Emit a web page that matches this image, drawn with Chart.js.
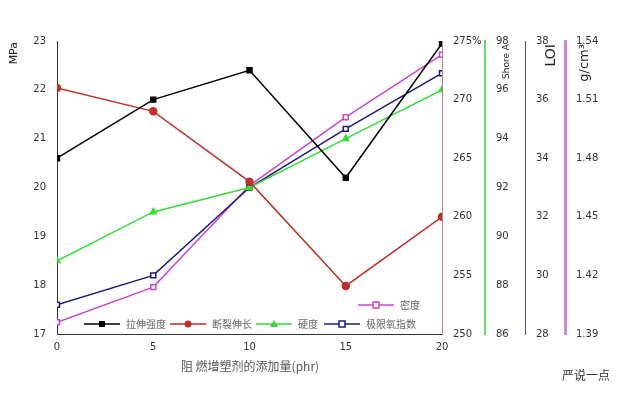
<!DOCTYPE html>
<html lang="zh">
<head>
<meta charset="UTF-8">
<title>阻燃增塑剂</title>
<script src="https://cdn.jsdelivr.net/npm/chart.js"></script>
<style>
    body { margin: 0; background: #fff; }
    #wrap { width: 640px; height: 400px; }
</style>
</head>
<body>
<div id="wrap"><canvas id="mychart" width="640" height="400"></canvas></div>
<script>
    // data
    const phr = [0, 5, 10, 15, 20];
    const strength = [20.6, 21.8, 22.4, 20.2, 22.95];   // MPa
    const elongation = [271, 269, 263, 254.1, 260];     // %
    const hardness = [89.0, 91.0, 92.0, 94.0, 96.0];    // Shore A
    const loi = [29.0, 30.0, 33.0, 35.0, 36.9];         // LOI
    const density = [1.396, 1.414, 1.466, 1.501, 1.533]; // g/cm3

    const names = ['拉伸强度', '断裂伸长', '硬度', '极限氧指数', '密度'];
    const colors = ['#000000', '#c0302a', '#33dd33', '#1a1a80', '#cc44cc'];

    function pts(arr) {
        return phr.map((x, i) => ({x: x, y: arr[i]}));
    }

    function fixW(w) {
        return function (s) { s.width = w; };
    }

    const tickFont = {family: 'DejaVu Sans', size: 10};

    // axis titles, legend and watermark
    const extras = {
        id: 'extras',
        afterDraw(chart) {
            const c = chart.ctx;
            const a = chart.chartArea;
            c.save();
            c.fillStyle = '#222';
            c.font = '11px DejaVu Sans';
            const vtext = (t, x, y) => {
                c.save(); c.translate(x, y); c.rotate(-Math.PI / 2);
                c.textAlign = 'right'; c.textBaseline = 'middle';
                c.fillText(t, 0, 0); c.restore();
            };
            vtext('MPa', 14, 42);
            c.font = '9px DejaVu Sans';
            vtext('Shore A', 507, 44);
            c.font = '14px DejaVu Sans';
            vtext('LOI', 551, 44);
            c.font = '13px DejaVu Sans';
            vtext('g/cm³', 585, 44);
            c.font = '10px DejaVu Sans';
            c.textAlign = 'left'; c.textBaseline = 'middle';
            c.fillText('%', a.right + 30, a.top);

            // legend inside plot
            c.font = '10px "Noto Sans CJK SC"';
            const drawItem = (i, x, y) => {
                c.strokeStyle = colors[i]; c.fillStyle = colors[i]; c.lineWidth = 1.5;
                c.beginPath(); c.moveTo(x, y); c.lineTo(x + 36, y); c.stroke();
                const cx = x + 18;
                if (i === 0) c.fillRect(cx - 3, y - 3, 6, 6);
                else if (i === 1) { c.beginPath(); c.arc(cx, y, 3.5, 0, 7); c.fill(); }
                else if (i === 2) { c.beginPath(); c.moveTo(cx, y - 4); c.lineTo(cx + 4, y + 3); c.lineTo(cx - 4, y + 3); c.fill(); }
                else { c.fillStyle = '#fff'; c.fillRect(cx - 3, y - 3, 6, 6); c.strokeRect(cx - 3, y - 3, 6, 6); }
                c.fillStyle = '#666';
                c.fillText(names[i], x + 42, y);
            };
            drawItem(4, 358, 305);
            drawItem(0, 84, 324);
            drawItem(1, 170, 324);
            drawItem(2, 256, 324);
            drawItem(3, 324, 324);

            c.fillStyle = '#555';
            c.font = '12px "Noto Sans CJK SC"';
            c.textAlign = 'center';
            c.fillText('阻 燃增塑剂的添加量(phr)', 250, 366);
            c.fillStyle = '#333';
            c.textAlign = 'left';
            c.fillText('严说一点', 562, 375);
            c.restore();
        }
    };

    function ds(i, arr, axis, style, fill) {
        return {
            label: names[i], data: pts(arr), yAxisID: axis,
            borderColor: colors[i], backgroundColor: fill ? colors[i] : '#fff',
            borderWidth: 1.5, pointStyle: style, pointRadius: 3.5,
            pointBorderColor: colors[i], tension: 0
        };
    }

    new Chart(document.getElementById('mychart'), {
        type: 'line',
        data: {
            datasets: [
                ds(0, strength, 'y', 'rect', true),
                ds(1, elongation, 'yE', 'circle', true),
                ds(2, hardness, 'yH', 'triangle', true),
                ds(3, loi, 'yL', 'rect', false),
                ds(4, density, 'yD', 'rect', false)
            ]
        },
        options: {
            responsive: false,
            animation: false,
            layout: {padding: {top: 41, right: 20, bottom: 44, left: 14}},
            plugins: {legend: {display: false}, tooltip: {enabled: false}},
            scales: {
                x: {
                    type: 'linear', min: 0, max: 20,
                    ticks: {stepSize: 5, font: tickFont, color: '#333'},
                    grid: {display: false, tickLength: 4},
                    border: {color: '#333'}
                },
                y: {
                    position: 'left', min: 17, max: 23,
                    ticks: {stepSize: 1, font: tickFont, color: '#333'},
                    grid: {display: false}, border: {color: '#333'},
                    afterFit: fixW(43)
                },
                yE: {
                    position: 'right', min: 250, max: 275,
                    ticks: {stepSize: 5, font: tickFont, color: '#333'},
                    grid: {display: false}, border: {color: '#d08080'},
                    afterFit: fixW(43)
                },
                yH: {
                    position: 'right', min: 86, max: 98,
                    ticks: {stepSize: 2, font: tickFont, color: '#333'},
                    grid: {display: false}, border: {color: '#66dd66', width: 2},
                    afterFit: fixW(40)
                },
                yL: {
                    position: 'right', min: 28, max: 38,
                    ticks: {stepSize: 2, font: tickFont, color: '#333'},
                    grid: {display: false}, border: {color: '#555577'},
                    afterFit: fixW(40)
                },
                yD: {
                    position: 'right', min: 1.39, max: 1.54,
                    ticks: {
                        font: tickFont, color: '#333',
                        callback: v => v.toFixed(2)
                    },
                    afterBuildTicks(s) {
                        s.ticks = [1.39, 1.42, 1.45, 1.48, 1.51, 1.54].map(v => ({value: v}));
                    },
                    grid: {display: false}, border: {color: '#cc88dd', width: 3},
                    afterFit: fixW(55)
                }
            }
        },
        plugins: [extras]
    });
</script>
</body>
</html>
